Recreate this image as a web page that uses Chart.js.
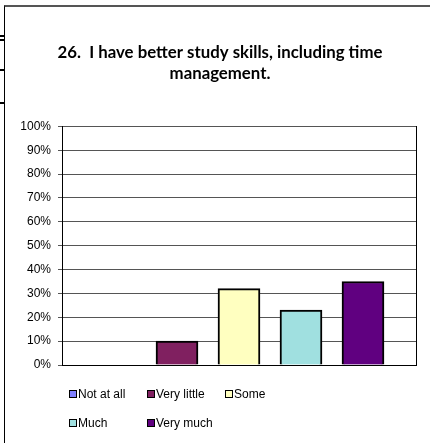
<!DOCTYPE html>
<html>
<head>
<meta charset="utf-8">
<script src="https://cdn.jsdelivr.net/npm/chart.js@4/dist/chart.umd.min.js"></script>
<style>
  html, body { margin: 0; padding: 0; background: #fff; }
  #wrap { position: relative; width: 430px; height: 443px; overflow: hidden; }
  #frame { position: absolute; left: 4px; top: 5px; right: -2px; bottom: -2px; border-left: 1px solid #000; border-top: 2px solid #555; }
  .mark { position: absolute; left: 0; width: 4px; height: 2px; background: #000; }
  canvas { position: absolute; left: 0; top: 0; }
  #legend { position: absolute; left: 0; top: 0; width: 430px; height: 443px; pointer-events: none;
            font-family: 'Liberation Sans', Arial, sans-serif; font-size: 12px; color: #000; }
  .item { position: absolute; display: flex; align-items: center; white-space: nowrap; }
  .box { width: 6px; height: 6px; border: 1px solid #000; margin-right: 1px; }
</style>
</head>
<body>
<div id="wrap">
  <div id="frame"></div>
  <div class="mark" style="top:35px"></div>
  <div class="mark" style="top:39px"></div>
  <div class="mark" style="top:69px"></div>
  <div class="mark" style="top:102px"></div>
  <canvas id="c" width="430" height="443"></canvas>
  <div id="legend"></div>
</div>
<script>
const titleLines = ["26.  I have better study skills, including time", "management."];
const categories = ["Not at all", "Very little", "Some", "Much", "Very much"];
const values = [0, 10, 32, 23, 35];
const colors = ["#8080FF", "#802060", "#FFFFC0", "#A0E0E0", "#600080"];
const yTicks = [0, 10, 20, 30, 40, 50, 60, 70, 80, 90, 100];

const points = categories.map((c, i) => ({ x: i, y: values[i] }));

new Chart(document.getElementById('c'), {
  type: 'bar',
  data: {
    datasets: [{
      label: 'Responses',
      data: points,
      backgroundColor: colors,
      borderColor: '#000',
      borderWidth: 2,
      barThickness: 42
    }]
  },
  options: {
    responsive: false,
    animation: false,
    devicePixelRatio: 1,
    layout: { padding: { left: 20, right: 10, top: 43, bottom: 78 } },
    plugins: {
      legend: { display: false },
      tooltip: { enabled: false },
      title: {
        display: true,
        text: titleLines,
        color: '#000',
        font: { family: 'Lato', size: 16.8, weight: 'bold', lineHeight: 1.2 },
        padding: { top: 0, bottom: 43 }
      }
    },
    scales: {
      x: {
        type: 'linear',
        offset: false,
        min: -0.855,
        max: 4.855,
        ticks: { display: false },
        grid: { display: false, drawTicks: false },
        border: { display: true, color: '#000', width: 1 }
      },
      y: {
        min: 0, max: 100,
        afterBuildTicks: s => { s.ticks = yTicks.map(v => ({ value: v })); },
        afterFit: s => { s.width = 42; },
        ticks: {
          color: '#000',
          padding: 7,
          font: { family: 'Liberation Sans', size: 12 },
          callback: v => v + '%'
        },
        grid: { color: '#555', lineWidth: 1, tickLength: 4, drawTicks: true },
        border: { display: true, color: '#000', width: 1 }
      },
      y2: {
        position: 'right',
        min: 0, max: 100,
        afterFit: s => { s.width = 4; },
        ticks: { display: false },
        grid: { display: false, drawTicks: false },
        border: { display: true, color: '#000', width: 1 }
      }
    }
  }
});

// Legend (text from categories/colors)
const legendPos = [[69, 394], [147, 394], [225, 394], [69, 423], [147, 423]];
const lg = document.getElementById('legend');
categories.forEach((c, i) => {
  const it = document.createElement('div');
  it.className = 'item';
  it.style.left = legendPos[i][0] + 'px';
  it.style.top = (legendPos[i][1] - 7) + 'px';
  const b = document.createElement('span');
  b.className = 'box';
  b.style.background = colors[i];
  const t = document.createElement('span');
  t.textContent = c;
  it.appendChild(b); it.appendChild(t);
  lg.appendChild(it);
});
</script>
</body>
</html>
